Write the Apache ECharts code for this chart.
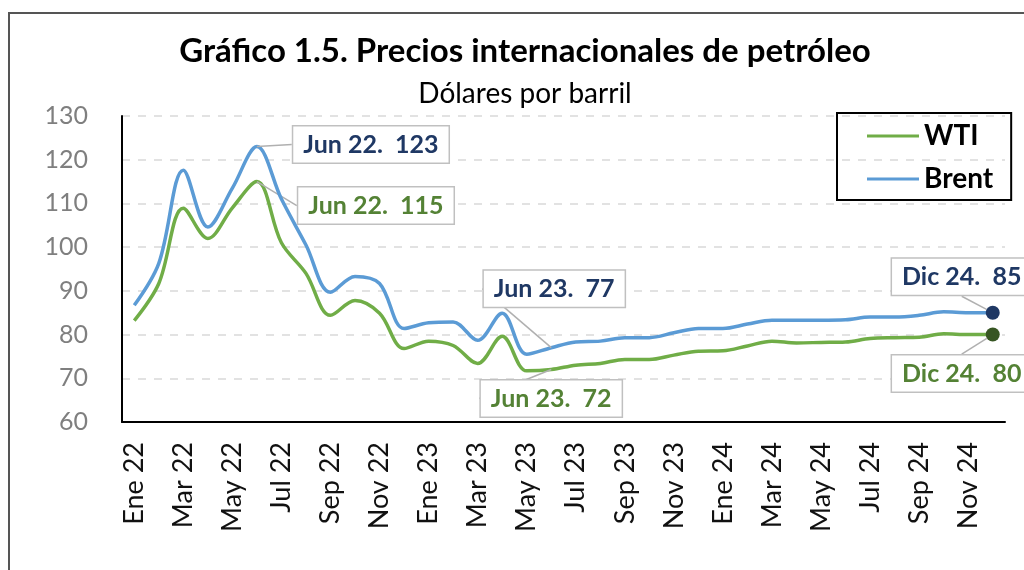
<!DOCTYPE html>
<html lang="es">
<head>
    <meta charset="UTF-8">
    <title>Precios internacionales de petróleo</title>
    <script src="https://cdn.jsdelivr.net/npm/echarts@6/dist/echarts.min.js"></script>
    <style>
        html, body { margin: 0; padding: 0; background: #fff; }
        #chart { width: 1024px; height: 570px; }
    </style>
</head>
<body>
    <div id="chart"></div>
    <script>
        // meses de Ene 22 a Dic 24
        var months = ['Ene 22', 'Feb 22', 'Mar 22', 'Abr 22', 'May 22', 'Jun 22', 'Jul 22', 'Ago 22', 'Sep 22', 'Oct 22', 'Nov 22', 'Dic 22',
                      'Ene 23', 'Feb 23', 'Mar 23', 'Abr 23', 'May 23', 'Jun 23', 'Jul 23', 'Ago 23', 'Sep 23', 'Oct 23', 'Nov 23', 'Dic 23',
                      'Ene 24', 'Feb 24', 'Mar 24', 'Abr 24', 'May 24', 'Jun 24', 'Jul 24', 'Ago 24', 'Sep 24', 'Oct 24', 'Nov 24', 'Dic 24'];
        var wti = [83.2, 91.7, 108.9, 102, 109, 115, 101, 94, 84.4, 87.8, 84.9, 76.8,
                   78.5, 77.5, 73.4, 79.6, 71.7, 72, 73, 73.4, 74.3, 74.3, 75.3, 76.2,
                   76.3, 77.4, 78.5, 78.1, 78.2, 78.3, 79.1, 79.3, 79.4, 80.2, 80, 80];
        var brent = [86.7, 96.3, 117.6, 104.6, 113.5, 123, 111, 100.5, 89.7, 93.3, 91.7, 81.4,
                     82.7, 82.9, 78.7, 84.9, 75.5, 77, 78.3, 78.5, 79.3, 79.3, 80.4, 81.4,
                     81.4, 82.4, 83.3, 83.3, 83.3, 83.4, 84, 84, 84.4, 85.2, 85, 85];
        var yTicks = [60, 70, 80, 90, 100, 110, 120, 130];
        // meses con etiqueta
        var wtiNotes = ['Jun 22', 'Jun 23', 'Dic 24'];
        var brentNotes = ['Jun 22', 'Jun 23', 'Dic 24'];

        var font = 'Lato, "Noto Sans", sans-serif';
        var navy = '#1f3864';
        var darkGreen = '#548235';

        // desplazamiento de las etiquetas respecto al punto
        var shifts = {
            'Brent|Jun 22': [114, -2],
            'Brent|Jun 23': [3, -59],
            'Brent|Dic 24': [-31, -36],
            'WTI|Jun 22': [119, 24],
            'WTI|Jun 23': [0, 29],
            'WTI|Dic 24': [-31, 39]
        };

        function buildData(values, notes, textColor, dotColor) {
            return values.map(function (v, i) {
                var name = months[i];
                if (notes.indexOf(name) < 0) return { value: v, symbolSize: 0 };
                var last = i === values.length - 1;
                return {
                    value: v,
                    symbolSize: last ? 14 : 0,
                    itemStyle: { color: dotColor },
                    label: {
                        show: true,
                        position: 'inside',
                        formatter: function (p) { return p.name + '.  ' + Math.round(p.value); },
                        color: textColor,
                        fontFamily: font,
                        fontWeight: 'bold',
                        fontSize: 25,
                        backgroundColor: '#fff',
                        borderColor: '#c0c0c0',
                        borderWidth: 1.5,
                        padding: [6, 10, 5, 10]
                    }
                };
            });
        }

        var chart = echarts.init(document.getElementById('chart'));
        chart.setOption({
            animation: false,
            backgroundColor: '#fff',
            title: [
                {
                    text: 'Gráfico 1.5. Precios internacionales de petróleo',
                    left: 520, top: 30, textAlign: 'center',
                    textStyle: { fontFamily: font, fontWeight: 'bold', fontSize: 33, color: '#000' }
                },
                {
                    text: 'Dólares por barril',
                    left: 520, top: 75, textAlign: 'center',
                    textStyle: { fontFamily: font, fontWeight: 'normal', fontSize: 28, color: '#000' }
                }
            ],
            legend: {
                orient: 'vertical',
                left: 837, top: 113,
                padding: [6, 18, 4, 30],
                borderColor: '#000', borderWidth: 2,
                itemWidth: 52, itemHeight: 3, itemGap: 9,
                icon: 'rect',
                textStyle: { fontFamily: font, fontWeight: 'bold', fontSize: 28, color: '#000', lineHeight: 34 },
                data: ['WTI', 'Brent']
            },
            graphic: [{
                type: 'rect',
                shape: { x: 9, y: 13, width: 1200, height: 800 },
                style: { fill: 'none', stroke: '#555', lineWidth: 2 },
                silent: true
            }],
            grid: { left: 122, right: 19, top: 116, bottom: 148 },
            xAxis: {
                type: 'category',
                data: months,
                boundaryGap: true,
                axisLine: { lineStyle: { color: '#000', width: 2 } },
                axisTick: { show: false },
                axisLabel: {
                    interval: 1, rotate: 90, margin: 20,
                    fontFamily: font, fontSize: 27, color: '#111'
                }
            },
            yAxis: {
                type: 'value',
                min: yTicks[0], max: yTicks[yTicks.length - 1], interval: 10,
                axisLine: { show: true, lineStyle: { color: '#000', width: 2 } },
                axisTick: { show: false },
                axisLabel: { margin: 34, fontFamily: font, fontSize: 25, color: '#7f7f7f' },
                splitLine: { lineStyle: { color: '#d9d9d9', type: [8, 8], width: 1.5 } }
            },
            series: [
                {
                    name: 'WTI', type: 'line', smooth: 0.35,
                    showSymbol: true, showAllSymbol: true, symbol: 'circle',
                    color: '#70ad47',
                    lineStyle: { width: 3.5, color: '#70ad47' },
                    label: { show: false },
                    labelLine: { show: true, lineStyle: { color: '#b0b0b0', width: 1.5 } },
                    labelLayout: function (p) {
                        var s = shifts['WTI|' + months[p.dataIndex]];
                        return s ? { dx: s[0], dy: s[1] } : {};
                    },
                    emphasis: { disabled: true },
                    z: 3,
                    data: buildData(wti, wtiNotes, darkGreen, '#375623')
                },
                {
                    name: 'Brent', type: 'line', smooth: 0.35,
                    showSymbol: true, showAllSymbol: true, symbol: 'circle',
                    color: '#5b9bd5',
                    lineStyle: { width: 3.5, color: '#5b9bd5' },
                    label: { show: false },
                    labelLine: { show: true, lineStyle: { color: '#b0b0b0', width: 1.5 } },
                    labelLayout: function (p) {
                        var s = shifts['Brent|' + months[p.dataIndex]];
                        return s ? { dx: s[0], dy: s[1] } : {};
                    },
                    emphasis: { disabled: true },
                    z: 4,
                    data: buildData(brent, brentNotes, navy, navy)
                }
            ]
        });
    </script>
</body>
</html>
